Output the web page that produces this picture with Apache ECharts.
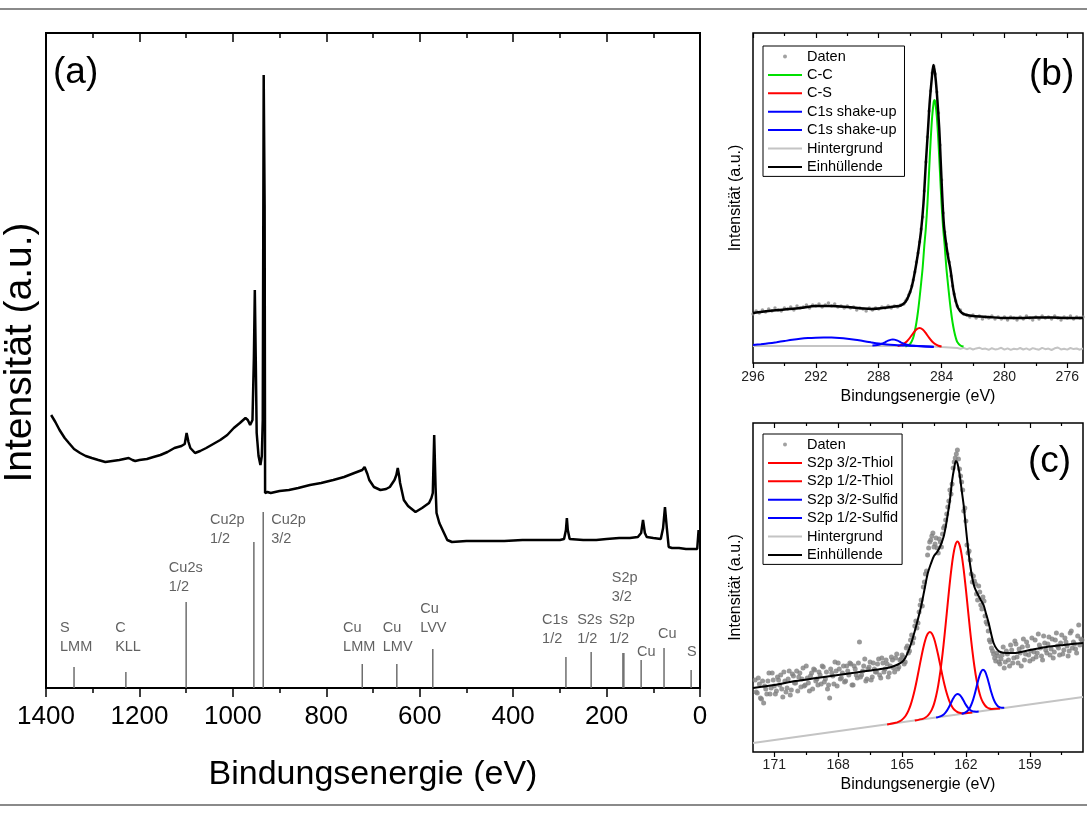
<!DOCTYPE html>
<html><head><meta charset="utf-8">
<script src="https://cdn.jsdelivr.net/npm/echarts@6/dist/echarts.min.js"></script>
<style>html,body{margin:0;padding:0;background:#fff}#c{width:1087px;height:815px}</style>
</head><body><div id="c"></div>
<script>
// ---------- Panel (a): survey spectrum ----------
const surveyData = [[1389,273],[1380,266],[1371,258],[1360,250],[1351,245],[1340,239],[1327,235],[1315,232],[1302,230],[1288,228],[1273,226],[1258,227],[1243,228],[1223,230],[1215,228],[1209,227],[1200,228],[1184,229],[1170,231],[1155,233],[1140,236],[1125,240],[1110,242],[1103,244],[1099,255],[1095,246],[1091,240],[1081,235],[1070,237],[1057,240],[1042,244],[1027,248],[1012,253],[998,260],[985,265],[973,270],[968,268],[963,263],[958,268],[955,330],[953,398],[951,330],[949,255],[945,232],[941,223],[938,232],[936,268],[934,613],[932,483],[931,195],[926,196],[919,195],[900,197],[880,198],[860,200],[835,203],[811,205],[785,208],[762,211],[740,215],[723,218],[718,221],[712,214],[708,208],[698,201],[684,198],[672,199],[664,201],[654,208],[650,213],[647,220],[644,212],[642,205],[634,188],[625,182],[609,176],[595,180],[580,185],[575,190],[572,195],[569,253],[566,200],[564,175],[558,165],[551,158],[545,152],[541,148],[531,146],[500,147],[450,147],[419,147],[380,148],[340,148],[300,148],[291,149],[287,158],[285,170],[283,158],[279,149],[276,148],[250,148],[222,148],[200,149],[173,150],[150,150],[133,151],[126,155],[122,168],[118,155],[114,151],[100,150],[84,149],[79,160],[75,181],[71,160],[67,141],[60,140],[45,140],[30,139],[15,139],[6,139],[3,158]];
const stickEnergies = [1340,1229,1100,955,935,723,649,572,287,233,165,163,126,77,19];
const stickHeights  = [21,16,86,146,176,24,24,39,31,36,35,35,28,40,18];
const labelTexts    = ['S\nLMM','C\nKLL','Cu2s\n1/2','Cu2p\n1/2','Cu2p\n3/2','Cu\nLMM','Cu\nLMV','Cu\nLVV','C1s\n1/2','S2s\n1/2','S2p\n1/2','S2p\n3/2','Cu','Cu','S'];
const labelEnergies = [1370,1252,1137,1049,918,764,679,599,338,263,195,189,135,90,28];
const labelHeights  = [32,32,92,140,140,32,32,51,40,40,40,82,27,45,27];
const aRange = [0,1400];
const aMajorTicks = [0,200,400,600,800,1000,1200,1400];
const aMinorTicks = [100,300,500,700,900,1100,1300];

// ---------- Panel (b): C1s ----------
const bRange = [275,296];
const bMajorTicks = [276,280,284,288,292,296];
const bMinorTicks = [278,282,286,290,294];
const bDaten = [[296.0,49],[295.8,52],[295.6,50],[295.4,53],[295.2,51],[295.0,54],[294.8,52],[294.6,55],[294.4,53],[294.2,52],[294.0,55],[293.8,54],[293.6,56],[293.4,53],[293.2,57],[293.0,55],[292.8,56],[292.6,58],[292.4,55],[292.2,58],[292.0,57],[291.8,59],[291.6,56],[291.4,58],[291.2,60],[291.0,57],[290.8,59],[290.6,56],[290.4,57],[290.2,55],[290.0,57],[289.8,55],[289.6,56],[289.4,53],[289.2,55],[289.0,54],[288.8,52],[288.6,55],[288.4,53],[288.2,55],[288.0,54],[287.8,56],[287.6,55],[287.4,57],[287.2,55],[287.0,57],[286.8,56],[286.6,58],[286.4,59],[286.3,62],[286.2,64],[286.1,68],[286.0,71],[285.9,77],[285.8,83],[285.7,91],[285.6,101],[285.5,110],[285.4,121],[285.3,134],[285.2,146],[285.1,172],[285.0,201],[284.9,226],[284.8,252],[284.7,272],[284.6,290],[284.5,297],[284.4,289],[284.3,271],[284.2,250],[284.1,218],[284.0,183],[283.9,150],[283.8,131],[283.7,119],[283.6,109],[283.5,101],[283.4,87],[283.3,77],[283.2,69],[283.1,62],[283.0,57],[282.8,53],[282.6,49],[282.4,48],[282.2,46],[282.0,48],[281.8,45],[281.6,47],[281.4,44],[281.2,46],[281.0,45],[280.8,47],[280.6,44],[280.4,46],[280.2,44],[280.0,46],[279.8,43],[279.6,46],[279.4,45],[279.2,43],[279.0,46],[278.8,44],[278.6,47],[278.4,45],[278.2,43],[278.0,46],[277.8,44],[277.6,47],[277.4,45],[277.2,46],[277.0,44],[276.8,47],[276.6,45],[276.4,43],[276.2,46],[276.0,45],[275.8,47],[275.6,44],[275.4,46],[275.2,45],[275.0,46]];
const bCC = [[286.3,16.5],[286.0,19],[285.8,25.5],[285.7,32],[285.6,40.5],[285.5,51.5],[285.4,65],[285.3,80],[285.2,96],[285.1,117],[285.0,135],[284.9,159],[284.8,190],[284.7,221],[284.6,246],[284.5,261],[284.45,263],[284.4,261],[284.3,246],[284.2,221],[284.1,190],[284.0,159],[283.9,135],[283.8,117],[283.7,96],[283.6,80],[283.5,65],[283.4,51.5],[283.3,40.5],[283.2,32],[283.1,25.5],[283.0,21],[282.8,17.5],[282.6,16.5]];
const bCS = [[286.8,17],[286.6,17.9],[286.4,19.3],[286.2,21.8],[286.0,25.5],[285.8,29.9],[285.6,33.6],[285.4,35],[285.2,33.5],[285.0,29.8],[284.8,25.3],[284.6,21.5],[284.4,18.8],[284.2,17.3],[284.0,16.5]];
const bShake1 = [[296,18],[295.5,18.8],[295,19.7],[294.5,20.8],[294,22],[293.5,23.2],[293,24.2],[292.5,24.9],[292,25.3],[291.5,25.5],[291,25.4],[290.5,25.0],[290,24.3],[289.5,23.3],[289,22.0],[288.5,20.7],[288,19.5],[287.5,18.6],[287,18.0],[286.5,17.6],[286,17.3],[285.5,17.0],[285,16.6],[284.5,16.3]];
const bShake2 = [[288.4,17.5],[288.2,17.7],[288.0,18.2],[287.8,19.2],[287.6,20.7],[287.4,22.3],[287.2,23.4],[287.1,23.6],[287.0,23.4],[286.8,22.3],[286.6,20.7],[286.4,19.2],[286.2,18.2],[286.0,17.5],[285.6,17],[285.0,16.5],[284.5,16]];
const bBackground = [[296,17],[290,17],[286,17],[285,16.8],[284.5,16.5],[284,16],[283.5,15.6],[283,15],[282.8,14.2],[282.6,15.1],[282.4,13.8],[282.2,14.9],[282.0,13.5],[281.8,14.6],[281.6,15.3],[281.4,13.9],[281.2,14.4],[281.0,13.2],[280.8,14.8],[280.6,13.6],[280.4,14.1],[280.2,15.2],[280.0,13.4],[279.8,14.7],[279.6,13.1],[279.4,14.3],[279.2,13.7],[279.0,15.0],[278.8,13.5],[278.6,14.6],[278.4,13.2],[278.2,14.9],[278.0,14.0],[277.8,13.3],[277.6,15.1],[277.4,13.8],[277.2,14.4],[277.0,13.0],[276.8,14.7],[276.6,15.5],[276.4,13.6],[276.2,14.2],[276.0,13.4],[275.8,15.0],[275.6,13.9],[275.4,14.5],[275.2,13.3],[275.0,14.6]];
const bEnvelope = [[296.0,50],[295.0,52],[294.0,53.5],[293.0,55],[292.0,57],[291.0,57],[290.0,56],[289.0,54.5],[288.5,54],[288.0,54.5],[287.5,55.5],[287.0,56.5],[286.6,57.5],[286.3,61],[286.1,67],[285.9,76],[285.75,87],[285.6,100],[285.45,115],[285.3,133],[285.15,160],[285.0,200],[284.85,237],[284.75,262],[284.62,285],[284.52,298],[284.42,290],[284.3,270],[284.15,235],[284.05,200],[283.95,165],[283.85,138],[283.7,118],[283.55,103],[283.45,95],[283.35,84],[283.25,73],[283.1,62],[282.95,55],[282.7,50],[282.4,48],[282.0,47],[281.0,46],[280.0,45],[279.0,45],[278.0,45.5],[277.0,45.5],[276.0,45],[275.0,45]];

// ---------- Panel (c): S2p ----------
const cRange = [156.5,172];
const cMajorTicks = [159,162,165,168,171];
const cMinorTicks = [157.5,160.5,163.5,166.5,169.5];
const cDaten = [[171.9,72],[171.8,59],[171.7,68],[171.6,53],[171.5,49],[171.4,63],[171.3,71],[171.2,58],[171.1,79],[171.0,66],[170.9,61],[170.8,72],[170.7,77],[170.6,55],[170.5,71],[170.4,64],[170.3,81],[170.2,62],[170.1,76],[170.0,69],[169.9,61],[169.8,79],[169.7,73],[169.6,66],[169.5,86],[169.4,69],[169.3,76],[169.2,63],[169.1,82],[169.0,73],[168.9,80],[168.8,68],[168.7,85],[168.6,73],[168.5,63],[168.4,54],[168.3,79],[168.2,68],[168.1,81],[168.0,89],[167.9,73],[167.8,79],[167.7,70],[167.6,86],[167.5,77],[167.4,88],[167.3,67],[167.2,83],[167.1,74],[167.0,110],[166.9,77],[166.8,86],[166.7,71],[166.6,83],[166.5,90],[166.4,75],[166.3,83],[166.2,80],[166.1,93],[166.0,74],[165.9,89],[165.8,83],[165.7,88],[165.6,79],[165.5,95],[165.4,84],[165.3,94],[165.2,83],[165.1,92],
[171.85,60],[171.75,74],[171.65,54],[171.55,71],[171.45,66],[171.35,58],[171.25,79],[171.15,64],[171.05,72],[170.95,58],[170.85,75],[170.75,67],[170.65,63],[170.55,80],[170.45,60],[170.35,73],[170.25,57],[170.15,78],[170.05,69],[169.95,81],[169.85,75],[169.75,65],[169.65,84],[169.55,67],[169.45,74],[169.35,61],[169.25,79],[169.15,83],[169.05,71],[168.95,67],[168.85,77],[168.75,86],[168.65,70],[168.55,80],[168.45,67],[168.35,83],[168.25,76],[168.15,90],[168.05,66],[167.95,83],[167.85,74],[167.75,86],[167.65,71],[167.55,81],[167.45,89],[167.35,67],[167.25,86],[167.15,77],[167.05,89],[166.95,75],[166.85,81],[166.75,93],[166.65,73],[166.55,85],[166.45,72],[166.35,89],[166.25,80],[166.15,88],[166.05,77],[165.95,94],[165.85,80],[165.75,92],[165.65,75],[165.55,86],[165.45,92],[165.35,80],[165.25,98],[165.15,85],[165.05,93],
[165.0,97],[164.9,88],[164.8,104],[164.7,99],[164.6,112],[164.5,109],[164.4,126],[164.3,124],[164.2,140],[164.1,152],[164.0,165],[163.9,178],[163.8,197],[163.7,210],[163.6,216],[163.5,205],[163.4,214],[163.3,199],[163.2,210],[163.1,218],[163.0,226],[162.9,238],[162.8,251],[162.7,258],[162.6,284],[162.5,294],[162.4,302],[162.3,283],[162.2,270],[162.1,241],[162.0,231],[161.9,199],[161.8,192],[161.7,170],[161.6,171],[161.5,158],[161.4,166],[161.3,147],[161.2,155],[161.1,136],[161.0,128],[160.9,112],[160.8,104],[160.7,98],[160.6,91],[160.5,96],
[164.95,95],[164.85,90],[164.75,106],[164.65,101],[164.55,117],[164.45,114],[164.35,131],[164.25,129],[164.15,147],[164.05,146],[163.95,170],[163.85,181],[163.75,204],[163.65,212],[163.55,219],[163.45,208],[163.35,204],[163.25,213],[163.15,205],[163.05,224],[162.95,232],[162.85,245],[162.75,262],[162.65,268],[162.55,290],[162.45,298],[162.35,293],[162.25,276],[162.15,262],[162.05,244],[161.95,207],[161.85,201],[161.75,178],[161.65,176],[161.55,168],[161.45,152],[161.35,160],[161.25,143],[161.15,151],[161.05,130],[160.95,121],[160.85,110],[160.75,101],[160.65,94],[160.55,99],[160.45,90],
[160.4,88],[160.3,97],[160.2,84],[160.1,101],[160.0,92],[159.9,107],[159.8,89],[159.7,111],[159.6,95],[159.5,103],[159.4,86],[159.3,113],[159.2,98],[159.1,106],[159.0,91],[158.9,114],[158.8,100],[158.7,95],[158.6,118],[158.5,104],[158.4,92],[158.3,109],[158.2,99],[158.1,115],[158.0,103],[157.9,94],[157.8,112],[157.7,106],[157.6,97],[157.5,117],[157.4,102],[157.3,110],[157.2,96],[157.1,119],[157.0,104],[156.9,108],[156.8,99],[156.7,127],[156.6,113],
[160.35,93],[160.25,105],[160.15,90],[160.05,98],[159.95,86],[159.85,102],[159.75,94],[159.65,108],[159.55,89],[159.45,99],[159.35,105],[159.25,92],[159.15,110],[159.05,97],[158.95,101],[158.85,93],[158.75,112],[158.65,99],[158.55,107],[158.45,96],[158.35,116],[158.25,102],[158.15,108],[158.05,97],[157.95,113],[157.85,100],[157.75,119],[157.65,104],[157.55,109],[157.45,98],[157.35,114],[157.25,106],[157.15,101],[157.05,121],[156.95,110],[156.85,103],[156.75,116],[156.65,107],[156.55,112]];
const cThiol32 = [[164.4,31.4],[164.0,33.4],[163.9,34.5],[163.8,36.1],[163.7,38.7],[163.6,42.4],[163.5,47.9],[163.4,56.0],[163.3,66.7],[163.2,80.7],[163.1,97.6],[163.0,117.3],[162.9,138.7],[162.8,160.2],[162.7,179.9],[162.6,196.0],[162.5,206.5],[162.4,210.4],[162.3,207.1],[162.2,197.2],[162.1,181.7],[162.0,162.6],[161.9,141.7],[161.8,120.9],[161.7,101.8],[161.6,85.5],[161.5,72.1],[161.4,62.0],[161.3,54.5],[161.2,49.7],[161.1,46.5],[161.0,44.5],[160.9,43.5],[160.8,43.0],[160.4,43.4]];
const cThiol12 = [[165.7,27.6],[165.3,29.2],[165.2,29.9],[165.1,30.9],[165.0,32.3],[164.9,34.3],[164.8,37.2],[164.7,41.4],[164.6,46.9],[164.5,54.0],[164.4,62.5],[164.3,72.5],[164.2,83.4],[164.1,94.3],[164.0,104.3],[163.9,112.5],[163.8,117.9],[163.7,120.0],[163.6,118.5],[163.5,113.7],[163.4,106.1],[163.3,96.7],[163.2,86.4],[163.1,76.1],[163.0,66.7],[162.9,58.7],[162.8,52.2],[162.7,47.3],[162.6,43.7],[162.5,41.4],[162.4,40.0],[162.3,39.2],[162.2,38.8],[162.1,38.7],[161.7,39.5]];
const cSulfid32 = [[162.2,38.2],[162.1,38.8],[162.0,39.8],[161.9,41.6],[161.8,44.8],[161.7,49.8],[161.6,56.8],[161.5,65.2],[161.4,73.5],[161.3,79.8],[161.2,82.3],[161.1,80.4],[161.0,74.7],[160.9,67.0],[160.8,59.2],[160.7,52.8],[160.6,48.4],[160.5,45.8],[160.4,44.6],[160.3,44.2],[160.2,44.2]];
const cSulfid12 = [[163.4,34.4],[163.3,34.9],[163.2,35.6],[163.1,36.7],[163.0,38.4],[162.9,41.1],[162.8,44.7],[162.7,49.1],[162.6,53.4],[162.5,56.7],[162.4,58.1],[162.3,57.3],[162.2,54.6],[162.1,50.9],[162.0,47.1],[161.9,44.1],[161.8,42.0],[161.7,40.9],[161.6,40.4],[161.5,40.3],[161.4,40.4]];
const cBackground = [[172,9],[156.5,55]];
const cEnvelope = [[172.0,64],[171.0,67],[170.0,71],[169.0,74],[168.0,77],[167.0,80],[166.0,83],[165.5,85],[165.2,87.5],[165.0,90],[164.85,94],[164.7,101],[164.55,110],[164.4,121],[164.25,133],[164.1,146],[163.95,162],[163.8,178],[163.65,188],[163.5,196],[163.35,200],[163.2,206],[163.05,215],[162.95,225],[162.85,238],[162.75,252],[162.65,271],[162.55,284],[162.47,291],[162.4,289],[162.3,278],[162.2,262],[162.1,246],[162.0,224],[161.9,204],[161.8,187],[161.7,174],[161.6,165],[161.45,158],[161.3,152],[161.17,147],[161.05,138],[160.93,129],[160.8,117],[160.7,109],[160.55,103],[160.38,100],[160.1,99],[159.76,99],[159.0,102],[158.2,105],[157.4,107],[156.5,109]];

// ---------- build ----------
const FONT = '"Liberation Sans", Arial, sans-serif';
function xAxesFor(g, range, major, minor, o) {
  const base = {type:'value', gridIndex:g, min:range[0], max:range[1], inverse:true, splitLine:{show:false}, axisLine:{show:false}};
  const ts = {color:'#000', width:o.tickW};
  return [
    Object.assign({}, base, {position:'bottom', name:o.name, nameLocation:'middle', nameGap:o.nameGap,
      nameTextStyle:{fontSize:o.nameSize, color:'#000', fontFamily:FONT},
      axisTick:{show:true, inside:false, customValues:major, length:o.majLen, lineStyle:ts},
      axisLabel:{show:true, customValues:major, fontSize:o.labelSize, margin:o.labelMargin, color:o.labelColor, fontFamily:FONT, formatter:v=>String(v)}}),
    Object.assign({}, base, {position:'bottom', axisTick:{show:true, inside:false, customValues:minor, length:o.minLen, lineStyle:ts}, axisLabel:{show:false}}),
    Object.assign({}, base, {position:'top', axisTick:{show:true, inside:true, customValues:major, length:o.majLen, lineStyle:ts}, axisLabel:{show:false}}),
    Object.assign({}, base, {position:'top', axisTick:{show:true, inside:true, customValues:minor, length:o.minLen, lineStyle:ts}, axisLabel:{show:false}})
  ];
}
function yAxisFor(g, max, name, size, gap, pad) {
  return {type:'value', gridIndex:g, min:0, max:max, axisLine:{show:false}, axisTick:{show:false}, axisLabel:{show:false}, splitLine:{show:false},
    name:name, nameLocation:'middle', nameGap:gap, nameTextStyle:{fontSize:size, color:'#000', fontFamily:FONT, padding:pad||0}};
}
const xAxes = [].concat(
  xAxesFor(0, aRange, aMajorTicks, aMinorTicks, {name:'Bindungsenergie (eV)', nameGap:70, nameSize:34, labelSize:26, labelMargin:16, labelColor:'#000', majLen:9, minLen:5, tickW:1.5}),
  xAxesFor(1, bRange, bMajorTicks, bMinorTicks, {name:'Bindungsenergie (eV)', nameGap:26, nameSize:16, labelSize:14, labelMargin:7, labelColor:'#222', majLen:5, minLen:3, tickW:1.2}),
  xAxesFor(2, cRange, cMajorTicks, cMinorTicks, {name:'Bindungsenergie (eV)', nameGap:25, nameSize:16, labelSize:14, labelMargin:6, labelColor:'#222', majLen:5, minLen:3, tickW:1.2})
);
const yAxes = [
  yAxisFor(0, 655, 'Intensität (a.u.)', 39, 6, [0,0,0,16]),
  yAxisFor(1, 330, 'Intensität (a.u.)', 16, 9),
  yAxisFor(2, 329, 'Intensität (a.u.)', 16, 9)
];
function lineS(name, data, xi, yi, color, w, smooth) {
  return {type:'line', name:name, data:data, xAxisIndex:xi, yAxisIndex:yi, symbol:'none', smooth:smooth||false,
    lineStyle:{color:color, width:w}, itemStyle:{color:color}, animation:false, silent:true};
}
function scatS(name, data, xi, yi, color, size) {
  return {type:'scatter', name:name, data:data, xAxisIndex:xi, yAxisIndex:yi, symbol:'circle', symbolSize:size,
    itemStyle:{color:color}, animation:false, silent:true};
}
const series = [
  lineS('survey', surveyData, 0, 0, '#000', 2.5),
  {type:'custom', name:'sticks', xAxisIndex:0, yAxisIndex:0, silent:true, animation:false,
    data: stickEnergies.map((e,i)=>[e, stickHeights[i]]),
    renderItem: function(params, api) {
      const p0 = api.coord([api.value(0), 0]);
      const p1 = api.coord([api.value(0), api.value(1)]);
      return {type:'line', shape:{x1:p0[0], y1:p0[1], x2:p1[0], y2:p1[1]}, style:{stroke:'#6e6e6e', lineWidth:1.5}};
    }},
  {type:'scatter', name:'stickLabels', xAxisIndex:0, yAxisIndex:0, silent:true, animation:false, symbolSize:1,
    itemStyle:{color:'rgba(0,0,0,0)'},
    data: labelTexts.map((t,i)=>({name:t, value:[labelEnergies[i], labelHeights[i]]})),
    label:{show:true, formatter:'{b}', position:'inside', align:'left', verticalAlign:'bottom', fontSize:14.5, lineHeight:19, color:'#3a3a3a', fontFamily:FONT}},
  // (b)
  scatS('Daten', bDaten, 4, 1, '#8a8a8a', 3.5),
  lineS('Hintergrund', bBackground, 4, 1, '#c4c4c4', 2),
  lineS('C-C', bCC, 4, 1, '#00e000', 2, 0.3),
  lineS('C-S', bCS, 4, 1, '#ff0000', 2, 0.3),
  lineS('C1s shake-up', bShake1, 4, 1, '#0000ff', 2, 0.3),
  lineS('C1s shake-up ', bShake2, 4, 1, '#0000ff', 2, 0.3),
  lineS('Einhüllende', bEnvelope, 4, 1, '#000', 2.5, 0.3),
  // (c)
  scatS('Daten', cDaten, 8, 2, '#7f7f7f', 5),
  lineS('Hintergrund', cBackground, 8, 2, '#c4c4c4', 2),
  lineS('S2p 3/2-Thiol', cThiol32, 8, 2, '#ff0000', 2, 0.3),
  lineS('S2p 1/2-Thiol', cThiol12, 8, 2, '#ff0000', 2, 0.3),
  lineS('S2p 3/2-Sulfid', cSulfid32, 8, 2, '#0000ff', 2, 0.3),
  lineS('S2p 1/2-Sulfid', cSulfid12, 8, 2, '#0000ff', 2, 0.3),
  lineS('Einhüllende', cEnvelope, 8, 2, '#000', 2, 0.3)
];
const LINE_ICON = 'path://M0,0H34V2H0Z';
function legendFor(names, left, top) {
  return {orient:'vertical', left:left, top:top, itemWidth:34, itemHeight:4, itemGap:3.4, selectedMode:false,
    borderColor:'#000', borderWidth:1, padding:[3,4,2,5], backgroundColor:'#fff',
    textStyle:{fontSize:14.5, lineHeight:15, color:'#000', fontFamily:FONT},
    data: names.map(n => n === 'Daten' ? {name:n, icon:'circle'} : {name:n, icon:LINE_ICON})};
}
const gridBase = {show:true, borderColor:'#000', backgroundColor:'transparent', containLabel:false, outerBoundsMode:'none'};
const option = {
  backgroundColor:'#fff',
  animation:false,
  textStyle:{fontFamily:FONT},
  grid:[
    Object.assign({left:46, top:33, width:654, height:655, borderWidth:2}, gridBase),
    Object.assign({left:753, top:33, width:330, height:330, borderWidth:1.5}, gridBase),
    Object.assign({left:753, top:423, width:330, height:329, borderWidth:1.5}, gridBase)
  ],
  xAxis: xAxes,
  yAxis: yAxes,
  legend:[
    legendFor(['Daten','C-C','C-S','C1s shake-up','C1s shake-up ','Hintergrund','Einhüllende'], 763, 46),
    legendFor(['Daten','S2p 3/2-Thiol','S2p 1/2-Thiol','S2p 3/2-Sulfid','S2p 1/2-Sulfid','Hintergrund','Einhüllende'], 763, 434)
  ],
  title:[
    {text:'(a)', left:53, top:54, padding:0, textStyle:{fontSize:37, fontWeight:'normal', color:'#000', fontFamily:FONT}},
    {text:'(b)', left:1029, top:56, padding:0, textStyle:{fontSize:37, fontWeight:'normal', color:'#000', fontFamily:FONT}},
    {text:'(c)', left:1028, top:443, padding:0, textStyle:{fontSize:37, fontWeight:'normal', color:'#000', fontFamily:FONT}}
  ],
  graphic:[
    {type:'line', shape:{x1:0, y1:9, x2:1087, y2:9}, style:{stroke:'#8a8a8a', lineWidth:2}, silent:true},
    {type:'line', shape:{x1:0, y1:805, x2:1087, y2:805}, style:{stroke:'#8a8a8a', lineWidth:2}, silent:true}
  ],
  series: series
};
const chart = echarts.init(document.getElementById('c'), null, {renderer:'canvas'});
chart.setOption(option);
</script></body></html>
